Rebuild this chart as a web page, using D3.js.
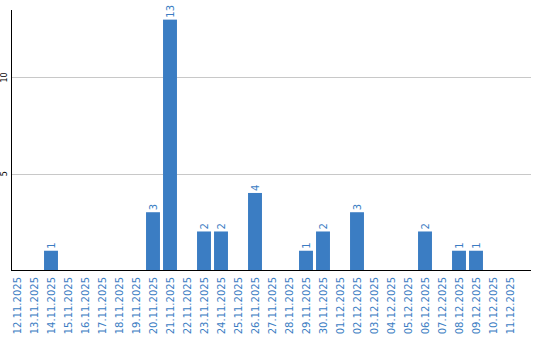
<!DOCTYPE html>
<html>
<head>
<meta charset="utf-8">
<script src="https://cdn.jsdelivr.net/npm/d3@7"></script>
<style>
  body { margin: 0; background: #fff; }
  text { font-family: "DejaVu Sans", Verdana, sans-serif; }
</style>
</head>
<body>
<div id="plot"></div>
<script>
const dates = ["12.11.2025","13.11.2025","14.11.2025","15.11.2025","16.11.2025","17.11.2025",
  "18.11.2025","19.11.2025","20.11.2025","21.11.2025","22.11.2025","23.11.2025","24.11.2025",
  "25.11.2025","26.11.2025","27.11.2025","28.11.2025","29.11.2025","30.11.2025","01.12.2025",
  "02.12.2025","03.12.2025","04.12.2025","05.12.2025","06.12.2025","07.12.2025","08.12.2025",
  "09.12.2025","10.12.2025","11.12.2025"];
const counts = [0,0,1,0,0,0,0,0,3,13,0,2,2,0,4,0,0,1,2,0,3,0,0,0,2,0,1,1,0,0];
const yTicks = [5, 10];

const w = 540, h = 340;
const blue = "#3b7dc3";
const plotLeft = 11, plotRight = 531, plotTop = 10, plotBottom = 270;

const svg = d3.select("#plot").append("svg")
  .attr("width", w).attr("height", h);

const x = d3.scaleBand()
  .domain(dates)
  .range([8.5, 518.5])
  .paddingInner(0.18)
  .paddingOuter(0.09);

const y = d3.scaleLinear().domain([0, 13.5]).range([plotBottom, plotTop]);

// grid
svg.selectAll(".grid").data(yTicks).enter().append("line")
  .attr("x1", plotLeft).attr("x2", plotRight)
  .attr("y1", d => Math.round(y(d)) + 0.5).attr("y2", d => Math.round(y(d)) + 0.5)
  .attr("stroke", "#c8c8c8");

// y tick labels, rotated
svg.selectAll(".ylab").data(yTicks).enter().append("text")
  .attr("transform", d => "translate(7," + y(d) + ") rotate(-90)")
  .attr("text-anchor", "middle")
  .attr("font-size", 8)
  .text(d => d);

// bars
const data = dates.map((d, i) => ({date: d, v: counts[i]}));
svg.selectAll(".bar").data(data.filter(d => d.v > 0)).enter().append("rect")
  .attr("x", d => x(d.date))
  .attr("width", x.bandwidth())
  .attr("y", d => y(d.v))
  .attr("height", d => plotBottom - y(d.v))
  .attr("fill", blue);

// bar value labels
svg.selectAll(".val").data(data.filter(d => d.v > 0)).enter().append("text")
  .attr("transform", d => "translate(" + (x(d.date) + x.bandwidth() / 2 + 4) + "," + (y(d.v) - 2) + ") rotate(-90)")
  .attr("font-size", 10)
  .attr("fill", blue)
  .text(d => d.v);

// axes lines
svg.append("line").attr("x1", plotLeft + 0.5).attr("x2", plotLeft + 0.5)
  .attr("y1", plotTop).attr("y2", plotBottom + 1).attr("stroke", "#000");
svg.append("line").attr("x1", plotLeft).attr("x2", plotRight)
  .attr("y1", plotBottom + 0.5).attr("y2", plotBottom + 0.5).attr("stroke", "#000");

// x labels
svg.selectAll(".xlab").data(dates).enter().append("text")
  .attr("transform", d => "translate(" + (x(d) + x.bandwidth() / 2 + 4) + ",277) rotate(-90)")
  .attr("text-anchor", "end")
  .attr("font-size", 10)
  .attr("fill", blue)
  .text(d => d);
</script>
</body>
</html>
